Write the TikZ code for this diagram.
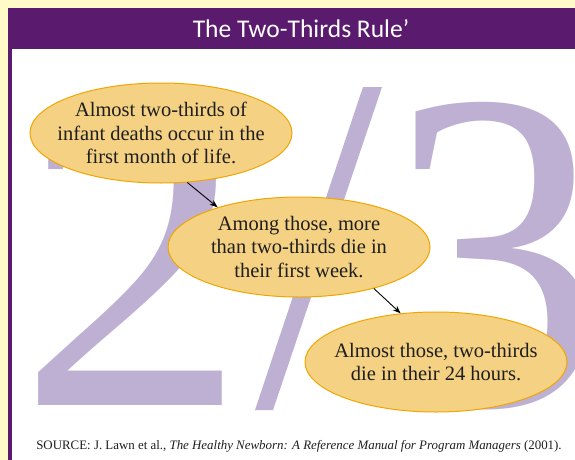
\documentclass[tikz,border=0pt]{standalone}
\usepackage{fontspec}
\setmainfont{Liberation Serif}
\newfontfamily\titlefont{Carlito}
\usetikzlibrary{shapes.geometric,arrows.meta}

\definecolor{pagebg}{HTML}{FFFAC8}
\definecolor{framepurple}{HTML}{5A1A6E}
\definecolor{lavender}{HTML}{BEB0D3}
\definecolor{bubblefill}{HTML}{F5D283}
\definecolor{bubbleline}{HTML}{EFA600}
\definecolor{inktext}{HTML}{1E1E1E}

\tikzset{
  bigdigit/.style={anchor=base west, inner sep=0pt, text=lavender,
    font=\fontsize{458}{458}\selectfont},
  bubble/.style={ellipse, draw=bubbleline, line width=1pt, fill=bubblefill,
    inner sep=0pt, minimum width=262pt, minimum height=100pt},
  bubbletext/.style={inner sep=0pt, align=center, text=inktext,
    font=\fontsize{20.5}{23.5}\selectfont},
  pointer/.style={-{Stealth[length=8pt,width=6pt]}, line width=0.9pt, black},
}

\begin{document}
\begin{tikzpicture}[x=1pt, y=-1pt]
  % page and frame
  \fill[pagebg] (0,0) rectangle (575,460);
  \useasboundingbox (0,0) rectangle (575,460);
  \fill[framepurple] (8,8) rectangle (575,460);
  \fill[white] (12,49) rectangle (575,460);
  \node[text=white, font=\titlefont\fontsize{25.5}{25.5}\selectfont] (title) at (301,28.5) {The Two-Thirds Rule’};

  % the large fraction in the background
  \node[bigdigit] (two) at (18,405) {2};
  \fill[lavender] (255,410) -- (273,410) -- (382,87) -- (363,87) -- cycle;
  \node[bigdigit, xscale=0.95] (three) at (386,405) {3};

  % speech bubbles
  \node[bubble] (e1) at (161,133) {};
  \node[bubbletext] (t1) at (e1) {Almost two-thirds of\\infant deaths occur in the\\first month of life.};
  \node[bubble] (e2) at (299,247) {};
  \node[bubbletext] (t2) at (e2) {Among those, more\\than two-thirds die in\\their first week.};
  \node[bubble] (e3) at (436,362) {};
  \node[bubbletext] (t3) at (e3) {Almost those, two-thirds\\die in their 24 hours.};

  \draw[pointer] (e1.-62) -- (e2.154);
  \draw[pointer] (e2.-29) -- (e3.126);

  % source line
  \node[anchor=base, inner sep=0pt, text=inktext, font=\fontsize{12.9}{15}\selectfont] (source) at (299,449)
    {SOURCE: J. Lawn et al., \textit{The Healthy Newborn: A Reference Manual for Program Managers} (2001).};
\end{tikzpicture}
\end{document}
